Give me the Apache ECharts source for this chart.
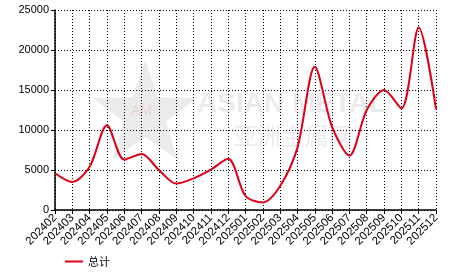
<!DOCTYPE html>
<html><head><meta charset="utf-8">
<script src="https://cdn.jsdelivr.net/npm/echarts@6/dist/echarts.min.js"></script>
<style>html,body{margin:0;padding:0;background:#fff}#c{width:466px;height:272px}</style>
</head><body><div id="c"></div>
<script>
const categories = ['202402','202403','202404','202405','202406','202407','202408','202409','202410','202411','202412','202501','202502','202503','202504','202505','202506','202507','202508','202509','202510','202511','202512'];
const totalValues = [4600,3500,5400,10600,6300,7000,5000,3300,3950,5050,6400,1750,950,3000,7800,17900,10400,6800,12500,15000,12700,22800,12600];
const yTicks = {min:0, max:25000, interval:5000};
const seriesName = '总计';

function starPoints(cx, cy, R, r){
  const pts=[];
  for(let k=0;k<10;k++){
    const a=(-90+k*36)*Math.PI/180, rr=k%2===0?R:r;
    pts.push([cx+rr*Math.cos(a), cy+rr*Math.sin(a)]);
  }
  return pts;
}

const chart = echarts.init(document.getElementById('c'));
chart.setOption({
  animation:false,
  textStyle:{fontFamily:'Liberation Sans, Arial, sans-serif'},
  graphic:[
    {type:'polygon', shape:{points:starPoints(145,115,55,22)}, style:{fill:'rgba(0,0,0,0.08)'}, z:-1},
    {type:'text', left:131, top:104, style:{text:'AM', fontSize:14, fill:'rgba(230,0,0,0.12)'}, z:-1},
    {type:'text', left:197, top:90, style:{text:'ASIAN METAL', fontSize:28, fontWeight:'bold', fill:'rgba(0,0,0,0.08)', fontFamily:'Liberation Sans'}, z:-1},
    {type:'text', left:233, top:124, style:{text:'亚洲金属网', fontSize:24, fill:'rgba(0,0,0,0.08)', fontFamily:'Noto Sans CJK SC'}, z:-1}
  ],
  grid:{left:55, right:30, top:10, bottom:62},
  legend:{left:60, top:251, itemWidth:18, itemHeight:10, itemGap:8,
    icon:'path://M0,4 L18,4 L18,6 L0,6 Z',
    textStyle:{fontSize:11, color:'#000', fontFamily:'Noto Sans CJK SC'},
    data:[{name:seriesName}]},
  xAxis:{type:'category', data:categories, boundaryGap:false,
    axisLine:{lineStyle:{color:'#000', width:1.5}},
    axisTick:{show:true, length:4, lineStyle:{color:'#000'}},
    axisLabel:{rotate:45, fontSize:11.5, color:'#000', interval:0, margin:6},
    splitLine:{show:true, lineStyle:{color:'#000', type:[1,2], width:1}}},
  yAxis:{type:'value', min:yTicks.min, max:yTicks.max, interval:yTicks.interval,
    axisLine:{show:true, lineStyle:{color:'#000', width:1.5}},
    axisTick:{show:true, length:4, lineStyle:{color:'#000'}},
    axisLabel:{fontSize:11, color:'#000', margin:6, formatter:v=>String(v)},
    splitLine:{show:true, lineStyle:{color:'#000', type:[1,2], width:1}}},
  series:[{name:seriesName, type:'line', data:totalValues, smooth:0.3, symbol:'none',
    lineStyle:{color:'#dc0018', width:2}, itemStyle:{color:'#dc0018'}}]
});
</script></body></html>
